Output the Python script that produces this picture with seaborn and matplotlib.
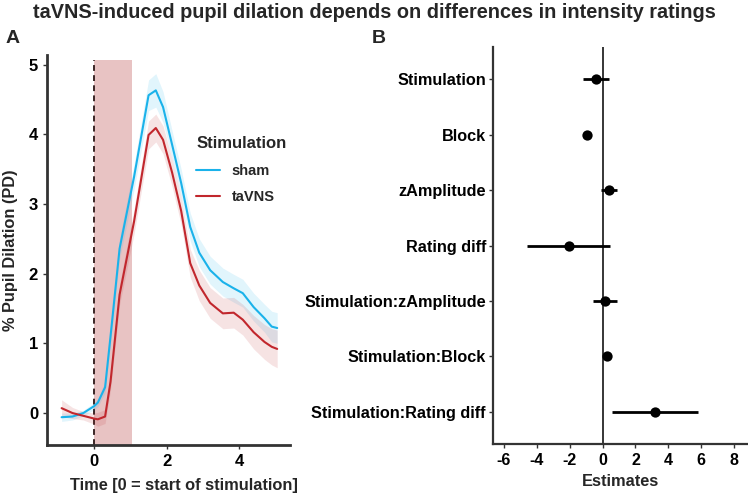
import numpy as np
import pandas as pd
import seaborn as sns
import matplotlib.pyplot as plt

# pupil dilation time courses (panel A)
time = [-0.9, -0.6, -0.3, 0.0, 0.1, 0.3, 0.45, 0.7, 1.1, 1.5, 1.7, 1.9, 2.15,
        2.4, 2.65, 2.9, 3.2, 3.55, 3.85, 4.1, 4.4, 4.7, 4.9, 5.05]
sham = [-0.06, -0.05, 0.0, 0.1, 0.15, 0.37, 1.1, 2.36, 3.39, 4.56, 4.63, 4.39, 3.85,
        3.3, 2.67, 2.3, 2.05, 1.88, 1.79, 1.72, 1.52, 1.36, 1.24, 1.22]
sham_ci = [0.06, 0.05, 0.04, 0.05, 0.06, 0.08, 0.12, 0.15, 0.18, 0.22, 0.24, 0.22, 0.2,
           0.2, 0.2, 0.2, 0.2, 0.2, 0.2, 0.2, 0.2, 0.2, 0.22, 0.22]
tavns = [0.07, 0.0, -0.04, -0.08, -0.09, -0.05, 0.45, 1.7, 2.75, 3.99, 4.09, 3.92, 3.45,
         2.9, 2.15, 1.83, 1.58, 1.43, 1.44, 1.34, 1.16, 1.02, 0.95, 0.92]
tavns_ci = [0.12, 0.08, 0.06, 0.08, 0.1, 0.1, 0.12, 0.15, 0.18, 0.2, 0.2, 0.2, 0.2,
            0.2, 0.2, 0.22, 0.22, 0.22, 0.22, 0.22, 0.24, 0.25, 0.26, 0.27]
stim_window = [0.0, 1.05]

# model estimates (panel B)
terms = ['Stimulation', 'Block', 'zAmplitude', 'Rating diff',
         'Stimulation:zAmplitude', 'Stimulation:Block', 'Stimulation:Rating diff']
estimates = [-0.42, -0.97, 0.36, -2.06, 0.12, 0.25, 3.17]
ci_low = [-1.2, -1.1, -0.1, -4.6, -0.6, 0.0, 0.55]
ci_high = [0.36, -0.84, 0.9, 0.48, 0.85, 0.5, 5.8]

sns.set_theme(style='white')
plt.rcParams['font.family'] = ['Liberation Sans', 'DejaVu Sans']
plt.rcParams['font.weight'] = 'bold'
plt.rcParams['axes.unicode_minus'] = False

c_sham = '#1AB2EA'
c_tavns = '#C1272D'
dark = '#333333'

fig = plt.figure(figsize=(7.48, 4.94), dpi=100)

# ---- panel A
ax1 = fig.add_axes([0.063, 0.099, 0.325, 0.79])
df_a = pd.DataFrame({
    'Time': time * 2,
    'PD': sham + tavns,
    'ci': sham_ci + tavns_ci,
    'Stimulation': ['sham'] * len(time) + ['taVNS'] * len(time),
})
ax1.fill_between(stim_window, -0.46, 5.07, color='#E5B9B9', alpha=0.85, lw=0, zorder=0)
ax1.plot([0, 0], [-0.46, 5.07], color='#3a2626', lw=1.4, ls=(0, (3, 2.2)), zorder=1)
for name, col in [('sham', c_sham), ('taVNS', c_tavns)]:
    d = df_a[df_a['Stimulation'] == name]
    ax1.fill_between(d['Time'], d['PD'] - d['ci'], d['PD'] + d['ci'],
                     color=col, alpha=0.13, lw=0, zorder=2)
sns.lineplot(data=df_a, x='Time', y='PD', hue='Stimulation',
             palette={'sham': c_sham, 'taVNS': c_tavns}, lw=1.5, ax=ax1, zorder=3)
ax1.set_xlim(-1.3, 5.41)
ax1.set_ylim(-0.46, 5.14)
ax1.set_xticks([0, 2, 4])
ax1.set_yticks([0, 1, 2, 3, 4, 5])
ax1.set_xlabel('Time [0 = start of stimulation]', fontsize=11.8, fontweight='bold')
ax1.xaxis.set_label_coords(0.564, -0.085)
ax1.set_ylabel('% Pupil Dilation (PD)', fontsize=11.8, fontweight='bold', labelpad=8)
ax1.tick_params(labelsize=12, length=3, width=1, colors=dark, labelcolor='black', left=True, bottom=True)
for s in ['top', 'right']:
    ax1.spines[s].set_visible(False)
for s in ['left', 'bottom']:
    ax1.spines[s].set_color(dark)
    ax1.spines[s].set_linewidth(2)
leg = ax1.legend(title='Stimulation', frameon=False, loc='upper left',
                 bbox_to_anchor=(0.56, 0.825), fontsize=10.5, title_fontsize=12,
                 handlelength=1.6, labelspacing=0.85)
leg.get_title().set_fontweight('bold')
for t in leg.get_texts():
    t.set_fontweight('bold')
leg._legend_box.align = 'left'

# ---- panel B
ax2 = fig.add_axes([0.659, 0.101, 0.34, 0.804])
df_b = pd.DataFrame({'term': terms, 'est': estimates, 'lo': ci_low, 'hi': ci_high})
ax2.axvline(0, color='black', lw=1.1, zorder=0)
ax2.hlines(y=df_b['term'], xmin=df_b['lo'], xmax=df_b['hi'], color='black', lw=2, zorder=2)
sns.scatterplot(data=df_b, x='est', y='term', color='black', s=55, edgecolor='black',
                linewidth=0, ax=ax2, zorder=3)
ax2.set_ylim(6.58, -0.58)
ax2.set_xlim(-6.67, 8.8)
ax2.set_xticks([-6, -4, -2, 0, 2, 4, 6, 8])
ax2.set_xlabel('Estimates', fontsize=11.8, fontweight='bold', labelpad=4)
ax2.set_ylabel('')
ax2.tick_params(axis='x', labelsize=11.5, length=3, width=1, colors=dark, labelcolor='black', bottom=True)
ax2.tick_params(axis='y', labelsize=11.7, length=3, width=1, colors=dark, labelcolor='black', left=True, pad=2)
for s in ['top', 'right']:
    ax2.spines[s].set_visible(False)
for s in ['left', 'bottom']:
    ax2.spines[s].set_color(dark)
    ax2.spines[s].set_linewidth(1.6)

fig.text(0.5, 0.974, 'taVNS-induced pupil dilation depends on differences in intensity ratings',
         ha='center', va='center', fontsize=14.3, fontweight='bold')
fig.text(0.008, 0.923, 'A', fontsize=14, fontweight='bold', va='center')
fig.text(0.497, 0.923, 'B', fontsize=14, fontweight='bold', va='center')

fig.savefig('out.png', dpi=100)
